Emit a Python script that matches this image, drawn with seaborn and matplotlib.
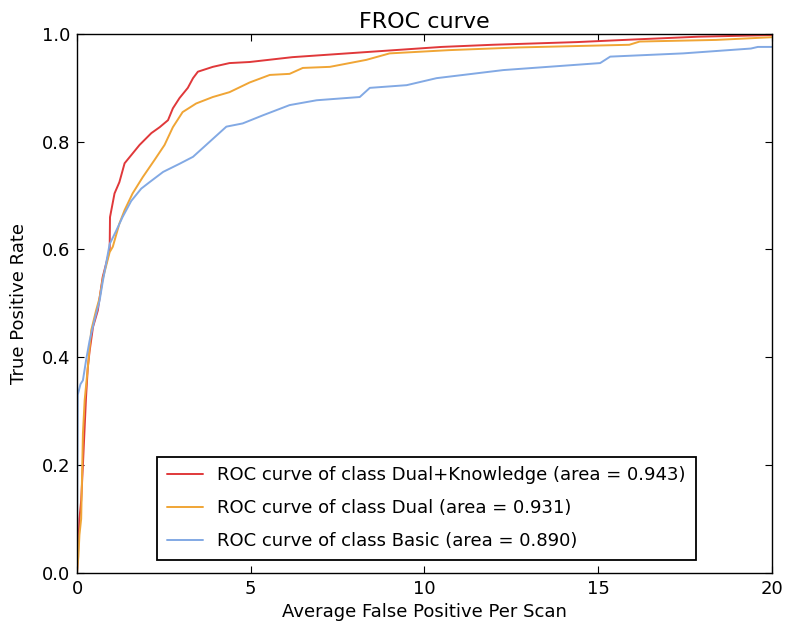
import matplotlib
matplotlib.use("Agg")
import matplotlib.pyplot as plt
import seaborn as sns
import pandas as pd

# ---- data ----
dk_x = [0, 0.03, 0.07, 0.12, 0.17, 0.22, 0.26, 0.31, 0.36, 0.46, 0.6, 0.65, 0.74, 0.84, 0.94, 0.95,
        1.08, 1.22, 1.37, 1.56, 1.8, 2.14, 2.38, 2.62, 2.76, 2.95, 3.19, 3.34, 3.48, 3.91, 4.39,
        4.97, 6.2, 8.23, 10.5, 11.97, 14.4, 16.1, 17.9, 20]
dk_y = [0, 0.04, 0.10, 0.134, 0.2, 0.27, 0.326, 0.38, 0.41, 0.456, 0.487, 0.51, 0.549, 0.574, 0.6, 0.66,
        0.704, 0.725, 0.76, 0.775, 0.794, 0.816, 0.827, 0.84, 0.862, 0.881, 0.9, 0.918, 0.93, 0.939, 0.946,
        0.948, 0.957, 0.966, 0.976, 0.98, 0.985, 0.99, 0.995, 0.998]

dual_x = [0, 0.04, 0.07, 0.12, 0.17, 0.22, 0.31, 0.41, 0.55, 0.65, 0.74, 0.84, 0.94, 1.03, 1.22, 1.37,
          1.6, 1.89, 2.23, 2.52, 2.76, 3.04, 3.43, 3.91, 4.39, 4.97, 5.55, 6.12, 6.5, 7.28, 8.33, 9.0,
          10.7, 12.7, 15.9, 16.2, 18.4, 20]
dual_y = [0, 0.03, 0.07, 0.10, 0.258, 0.32, 0.38, 0.45, 0.487, 0.51, 0.545, 0.57, 0.595, 0.605, 0.648, 0.673,
          0.704, 0.734, 0.766, 0.794, 0.827, 0.855, 0.871, 0.883, 0.892, 0.91, 0.924, 0.926, 0.937, 0.939, 0.952, 0.964,
          0.97, 0.975, 0.98, 0.986, 0.989, 0.994]

basic_x = [0, 0.01, 0.02, 0.1, 0.17, 0.26, 0.36, 0.5, 0.65, 0.74, 0.84, 0.94, 1.13, 1.31, 1.56, 1.85,
           2.09, 2.48, 2.95, 3.34, 3.82, 4.3, 4.77, 5.35, 6.12, 6.9, 8.14, 8.43, 9.49, 10.35, 12.27,
           15.06, 15.35, 17.45, 19.4, 19.6, 20]
basic_y = [0, 0.2, 0.33, 0.35, 0.357, 0.394, 0.43, 0.468, 0.505, 0.54, 0.575, 0.61, 0.635, 0.66, 0.69, 0.713,
           0.725, 0.744, 0.759, 0.772, 0.8, 0.828, 0.834, 0.849, 0.868, 0.877, 0.883, 0.9, 0.905, 0.918, 0.933,
           0.946, 0.958, 0.964, 0.973, 0.976, 0.976]

labels = ["ROC curve of class Dual+Knowledge (area = 0.943)",
          "ROC curve of class Dual (area = 0.931)",
          "ROC curve of class Basic (area = 0.890)"]
colors = ["#e0383a", "#f0a535", "#82a9e4"]

x_ticks = [0, 5, 10, 15, 20]
y_ticks = [0.0, 0.2, 0.4, 0.6, 0.8, 1.0]

frames = []
for lab, xs, ys in zip(labels, [dk_x, dual_x, basic_x], [dk_y, dual_y, basic_y]):
    frames.append(pd.DataFrame({"x": xs, "y": ys, "series": lab}))
df = pd.concat(frames, ignore_index=True)

sns.set_style("white")
plt.rcParams["font.family"] = ["DejaVu Sans"]
plt.rcParams.update({
    "xtick.direction": "in", "ytick.direction": "in",
    "xtick.top": True, "ytick.right": True,
    "xtick.major.size": 5, "ytick.major.size": 5,
    "xtick.bottom": True, "ytick.left": True,
    "text.color": "black", "axes.labelcolor": "black",
    "xtick.color": "black", "ytick.color": "black",
})

fig = plt.figure(figsize=(7.85, 6.33), dpi=100)
ax = fig.add_axes([0.0981, 0.0953, 0.9831 - 0.0981, 0.9463 - 0.0953])

sns.lineplot(data=df, x="x", y="y", hue="series", hue_order=labels,
             palette=colors, sort=False, estimator=None, linewidth=1.4, ax=ax)

ax.set_xlim(0, 20)
ax.set_ylim(0, 1.0)
ax.set_xticks(x_ticks)
ax.set_xticklabels([str(t) for t in x_ticks])
ax.set_yticks(y_ticks)
ax.set_yticklabels([f"{t:.1f}" for t in y_ticks])
ax.tick_params(labelsize=13, colors="black", width=0.8, pad=5)
for s in ax.spines.values():
    s.set_color("black")
    s.set_linewidth(1.0)
    s.set_visible(True)

ax.set_xlabel("Average False Positive Per Scan", fontsize=13, labelpad=4)
ax.set_ylabel("True Positive Rate", fontsize=13, labelpad=10)
ax.set_title("FROC curve", fontsize=16, pad=4)

h, l = ax.get_legend_handles_labels()
leg = ax.legend(h, l, loc="lower center", bbox_to_anchor=(0.503, 0.0236), fontsize=13,
                frameon=True, fancybox=False, framealpha=1, edgecolor="black",
                borderaxespad=0, borderpad=0.53, handlelength=2.0, handletextpad=0.8,
                labelspacing=0.83)
leg.get_frame().set_linewidth(1.3)
for t in leg.get_texts():
    t.set_color("black")

fig.savefig("out.png", dpi=100)
